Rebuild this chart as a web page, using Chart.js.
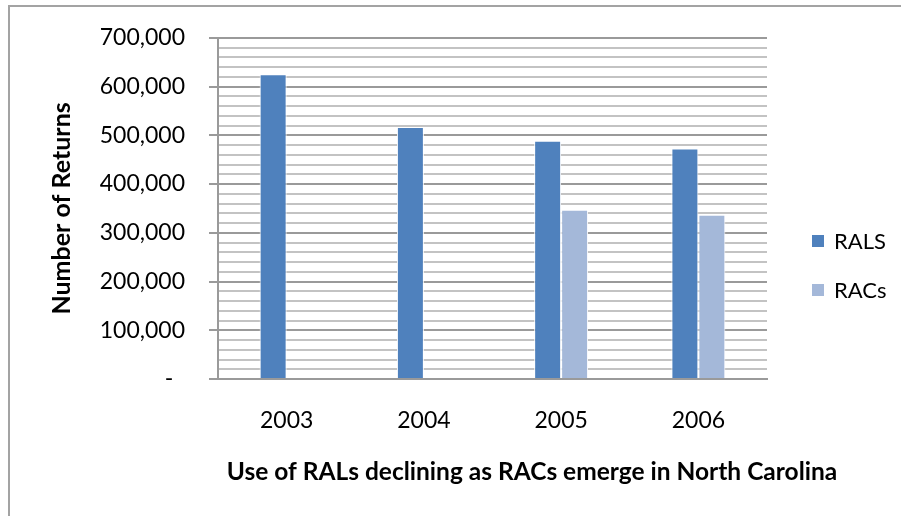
<!DOCTYPE html>
<html>
<head>
<meta charset="utf-8">
<title>RALs and RACs in North Carolina</title>
<script src="https://cdn.jsdelivr.net/npm/chart.js@4.4.1/dist/chart.umd.min.js"></script>
<style>
  html, body { margin: 0; padding: 0; background: #ffffff; }
  #wrap { width: 901px; height: 516px; position: relative; }
</style>
</head>
<body>
<div id="wrap"><canvas id="chart"></canvas></div>
<script>
// ---- data ----
const years = ['2003', '2004', '2005', '2006'];
const ralsValues = [625000, 517000, 489000, 473000];
const racsValues = [null, null, 347000, 337000];
const seriesNames = ['RALS', 'RACs'];
const yAxisTitle = 'Number of Returns';
const xAxisTitle = 'Use of RALs declining as RACs emerge in North Carolina';
const yMax = 700000;
const yMajorStep = 100000;
const yMinorStep = 20000;

// ---- look ----
const FONT = 'Lato, "Open Sans", "DejaVu Sans", sans-serif';
const ralsColor = '#4f81bd';
const racsColor = '#a4b8d9';
const majorGrid = '#9a9a9a';
const minorGrid = '#c3c3c3';

// frame line along the left and top edges
const framePlugin = {
  id: 'frame',
  beforeDraw(chart) {
    const ctx = chart.ctx;
    ctx.save();
    ctx.fillStyle = '#ffffff';
    ctx.fillRect(0, 0, chart.width, chart.height);
    ctx.strokeStyle = '#a3a3a3';
    ctx.lineWidth = 2;
    ctx.beginPath();
    ctx.moveTo(9, chart.height + 2);
    ctx.lineTo(9, 6);
    ctx.lineTo(chart.width + 2, 6);
    ctx.stroke();
    ctx.restore();
  }
};

// legend boxes on the right and the caption under the category axis
const sideLegendPlugin = {
  id: 'sideLegend',
  afterDraw(chart, args, opts) {
    const ctx = chart.ctx;
    const area = chart.chartArea;
    ctx.save();
    ctx.textBaseline = 'middle';
    ctx.textAlign = 'left';
    ctx.font = opts.fontSize + 'px ' + FONT;
    chart.data.datasets.forEach((ds, i) => {
      const cy = opts.top + i * opts.spacing;
      const bx = area.right + opts.gap;
      ctx.fillStyle = ds.backgroundColor;
      ctx.fillRect(bx, cy - opts.box / 2, opts.box, opts.box);
      ctx.fillStyle = '#000000';
      ctx.fillText(ds.label, bx + opts.box + opts.textGap, cy + 1);
    });
    // category axis caption
    ctx.font = 'bold ' + opts.captionSize + 'px ' + FONT;
    ctx.textAlign = 'center';
    ctx.fillText(xAxisTitle, opts.captionX, opts.captionY);
    ctx.restore();
  }
};

function yTickLabel(value) {
  if (value % yMajorStep !== 0) return '';
  if (value === 0) return '-  ';
  return value.toLocaleString('en-US');
}

const isMajor = (ctx) => ctx.tick && ctx.tick.value % yMajorStep === 0;

new Chart(document.getElementById('chart'), {
  type: 'bar',
  data: {
    labels: years,
    datasets: [
      {
        label: seriesNames[0],
        data: ralsValues,
        backgroundColor: ralsColor,
        borderColor: '#ffffff',
        borderWidth: 1,
        categoryPercentage: 0.393,
        barPercentage: 1.0
      },
      {
        label: seriesNames[1],
        data: racsValues,
        backgroundColor: racsColor,
        borderColor: '#ffffff',
        borderWidth: 1,
        categoryPercentage: 0.393,
        barPercentage: 1.0
      }
    ]
  },
  options: {
    responsive: true,
    maintainAspectRatio: false,
    animation: false,
    events: [],
    layout: { padding: { top: 35, right: 134, bottom: 0, left: 0 } },
    plugins: {
      legend: { display: false },
      tooltip: { enabled: false },
      sideLegend: {
        fontSize: 22, box: 12, gap: 45, textGap: 10,
        top: 241, spacing: 49,
        captionSize: 24.5, captionX: 532, captionY: 472
      }
    },
    scales: {
      x: {
        offset: true,
        grid: { display: false, drawTicks: false },
        border: { display: true, color: majorGrid, width: 2 },
        ticks: {
          color: '#000000',
          font: { family: FONT, size: 23 },
          padding: 28
        },
        afterFit(scale) { scale.height = 137; }
      },
      y: {
        min: 0,
        max: yMax,
        grid: {
          color: (ctx) => isMajor(ctx) ? majorGrid : minorGrid,
          lineWidth: 2,
          drawTicks: true,
          tickLength: 9,
          tickColor: (ctx) => isMajor(ctx) ? majorGrid : 'rgba(0,0,0,0)'
        },
        border: { display: true, color: majorGrid, width: 2 },
        ticks: {
          stepSize: yMinorStep,
          autoSkip: false,
          color: '#000000',
          font: { family: FONT, size: 23 },
          padding: 24,
          callback: yTickLabel
        },
        title: {
          display: true,
          text: yAxisTitle,
          color: '#000000',
          font: { family: FONT, size: 25, weight: 'bold' },
          padding: { top: 47, bottom: 0 }
        },
        afterFit(scale) { scale.width = 218; }
      }
    }
  },
  plugins: [framePlugin, sideLegendPlugin]
});
</script>
</body>
</html>
